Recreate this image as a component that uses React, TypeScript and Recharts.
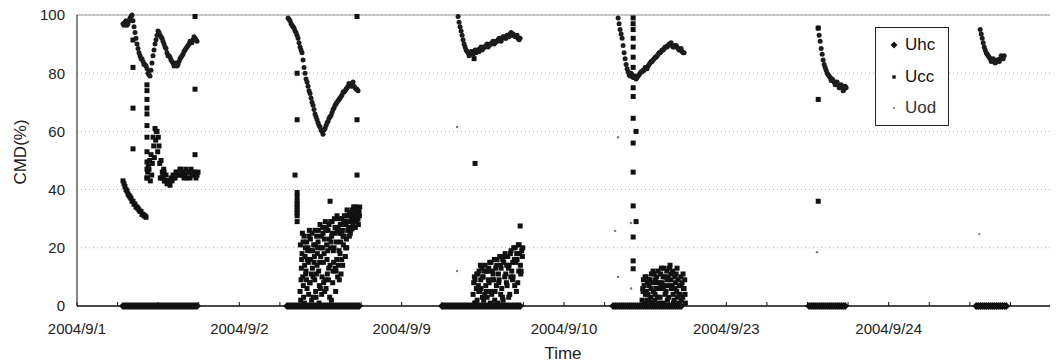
import React from 'react';
import { ScatterChart, Scatter, XAxis, YAxis, CartesianGrid, ReferenceLine } from 'recharts';

const FONT = "Arial, 'Liberation Sans', sans-serif";

// ---- categories / ticks ----
const DAY_LABELS = ['2004/9/1', '2004/9/2', '2004/9/9', '2004/9/10', '2004/9/23', '2004/9/24'];
const X_TICKS = [0, 0.25, 0.5, 0.75, 1, 1.25, 1.5, 1.75, 2, 2.25, 2.5, 2.75, 3, 3.25, 3.5, 3.75, 4, 4.25, 4.5, 4.75, 5, 5.25, 5.5, 5.75, 6];
const Y_TICKS = [0, 20, 40, 60, 80, 100];

// sampling intervals (in day-index units)
const STEP = 0.01232;
const HALF = 0.00616;

// ---- Uhc (zero band) ----
const uhcDay1 = [0,0,0,0,0,0,0,0,0,0,0,0,0,0,0,0,0,0,0,0,0,0,0,0,0,0,0,0,0,0,0,0,0,0,0,0,0,0];
const uhcDay2 = [0,0,0,0,0,0,0,0,0,0,0,0,0,0,0,0,0,0,0,0,0,0,0,0,0,0,0,0,0,0,0,0,0,0,0,0,0];
const uhcDay3 = [0,0,0,0,0,0,0,0,0,0,0,0,0,0,0,0,0,0,0,0,0,0,0,0,0,0,0,0,0,0,0,0,0,0,0,0,0,0,0,0];
const uhcDay4 = [0,0,0,0,0,0,0,0,0,0,0,0,0,0,0,0,0,0,0,0,0,0,0,0,0,0,0,0,0,0,0,0,0,0,0];
const uhcDay5 = [0,0,0,0,0,0,0,0,0,0,0,0,0,0,0,0,0,0,0];
const uhcDay6 = [0,0,0,0,0,0,0,0,0,0,0,0,0,0,0,0];
const uhcStarts = [0.2834, 1.2939, 2.2489, 3.3025, 4.5102, 5.5391];

// ---- Uod (curves, two interleaved readings) ----
const uodDay1 = [97, 97.5, 96.5, 98, 99.5, 98, 94, 90, 87, 85, 84, 83, 81.5, 79.5, 81, 86, 90, 93, 94, 92.5, 91, 89, 87, 86, 84.5, 83.5, 83, 82.5, 84, 85.5, 86.5, 88, 89, 90, 90.5, 91.5, 92, 91];
const uodDay1B = [96.5, 98, 97, 99, 100, 96, 92, 88.5, 86, 85, 83, 82.5, 80, 79, 83.5, 88, 91.5, 94.5, 93, 92, 90, 88.5, 86, 85.5, 84, 82.5, 83.5, 83, 85, 86, 87.5, 88.5, 89.5, 91, 90.5, 92.5, 91.5];
const uodDay2 = [99, 98, 96.5, 95.5, 94, 92, 89, 87, 82, 78, 75.5, 73, 70, 67.5, 65, 63, 61.5, 60, 60.5, 62, 63.5, 65, 66.5, 68, 69.5, 70.5, 71.5, 72.5, 73.5, 74.5, 75.5, 76, 76.5, 75.5, 74.5, 74];
const uodDay2B = [98.5, 97, 96, 94.5, 93, 90.5, 88, 84.5, 80, 77, 74, 71.5, 69, 66, 64, 62, 60.5, 59, 61, 63, 64.5, 65.5, 67.5, 69, 70, 71, 72, 73.5, 74, 75, 76.5, 75.5, 77, 75, 74.5];
const uodDay3 = [99.5, 96, 93, 90, 88, 87, 86.5, 87, 87.5, 87, 88, 88.5, 88, 89, 89.5, 89, 90, 90.5, 90, 91, 91.5, 91.5, 92, 92.5, 92, 93, 93.5, 93, 93, 92.5, 92, 92];
const uodDay3B = [97.5, 94.5, 91.5, 89, 87.5, 86, 87.5, 86.5, 88, 88, 87.5, 89, 88.5, 89, 90, 89.5, 90, 91, 90.5, 91, 92, 91, 92.5, 92, 93, 92.5, 94, 93.5, 92.5, 93, 91.5];
const uodDay4 = [99, 95, 92, 87, 83, 80.5, 79, 79.5, 78.5, 78, 79, 80, 80.5, 81, 82, 82.5, 83.5, 84, 85, 85.5, 86.5, 87, 88, 88.5, 89, 89.5, 90, 89.5, 89, 89.5, 88.5, 88, 87.5, 87];
const uodDay4B = [97, 93.5, 89.5, 85, 81.5, 79.5, 80, 78.5, 79, 78.5, 79.5, 80.5, 81, 82, 81.5, 83, 84, 84.5, 85.5, 86, 87, 87.5, 88, 89, 89, 90, 90.5, 89, 89.5, 89, 88, 88.5, 87];
const uodDay5 = [95.5, 91, 86.5, 83, 81, 79.5, 78.5, 78, 77, 76.5, 76, 75.5, 75, 74.5, 75];
const uodDay5B = [93, 88.5, 84.5, 82, 80, 79, 77.5, 77.5, 76, 77, 75, 76, 74, 75.5];
const uodDay6 = [95, 92, 89, 87, 86, 85, 84.5, 84, 84, 84.5, 85, 85.5, 86];
const uodDay6B = [93.5, 90.5, 88, 86.5, 85.5, 84, 85, 83.5, 84.5, 84, 86, 85];
const uodStarts = [0.2834, 1.3, 2.3475, 3.3333, 4.5656, 5.5638];
const uodStrayTime = [2.341, 2.341, 3.333, 3.333, 3.315, 3.413, 3.413, 4.559, 5.558];
const uodStrayValue = [61.5, 12, 58, 10, 25.8, 6, 28.5, 18.5, 24.7];

// ---- Ucc (squares) ----
const uccD1DescentA = [43, 41, 39.5, 38, 37, 36, 35, 34, 33, 32.5, 31.5, 31];
const uccD1DescentB = [42, 40, 38.5, 37.5, 36, 35, 34, 33.5, 32.5, 31.5, 31, 30.5];
const uccD1ClusterA = [44, 47, 52, 58, 61, 60, 55, 50, 45];
const uccD1ClusterB = [46, 50, 45, 55, 57, 53, 49, 44, 47];
const uccD1ClusterC = [48, 43, 49, 51, 60, 58, 44, 46, 43];
const uccD1BandA = [44, 43, 42, 43, 44, 45, 44, 46, 45, 47, 46, 45, 44, 46, 47, 45, 46, 45];
const uccD1BandB = [46, 45, 43, 41.5, 43, 44, 46, 45, 47, 45, 44, 47, 46, 44, 45, 46, 44, 46];

const uccD2A = [5, 18, 24, 12, 20, 8, 25, 15, 3, 22, 28, 10, 18, 6, 26, 14, 29, 20, 12, 27, 18, 30, 24, 28, 31, 26, 33, 29, 32, 30];
const uccD2B = [2, 10, 14, 22, 4, 16, 19, 9, 24, 12, 17, 27, 5, 21, 13, 29, 8, 25, 16, 30, 22, 14, 28, 20, 27, 32, 29, 31, 34, 33];
const uccD2C = [13, 7, 20, 16, 26, 11, 3, 21, 18, 7, 24, 15, 29, 11, 23, 2, 19, 13, 26, 9, 25, 21, 17, 31, 24, 29, 30, 27, 33, 31];
const uccD2D = [21, 25, 1, 9, 15, 23, 13, 17, 11, 26, 6, 20, 23, 27, 9, 20, 25, 30, 22, 14, 28, 26, 31, 23, 29, 25, 31, 34, 30, 28];
const uccD2E = [9, 22, 17, 6, 24, 19, 10, 26, 14, 1, 20, 25, 9, 16, 28, 22, 12, 27, 31, 19, 11, 24, 29, 33, 26, 31, 28, 33, 29, 32];
const uccD2F = [16, 3, 11, 19, 8, 2, 21, 5, 20, 15, 4, 8, 26, 19, 3, 24, 15, 5, 10, 25, 16, 29, 20, 26, 32, 30, 34, 30, 31, 34];

const uccD3A = [4, 9, 2, 12, 6, 10, 14, 3, 8, 15, 11, 5, 16, 9, 13, 2, 18, 7, 14, 19, 10, 20, 16, 21, 12];
const uccD3B = [8, 1, 11, 5, 13, 2, 7, 12, 15, 4, 9, 13, 1, 17, 6, 15, 11, 17, 4, 12, 20, 15, 8, 18, 19];
const uccD3C = [10, 6, 7, 14, 3, 12, 5, 9, 1, 12, 16, 7, 11, 14, 3, 17, 8, 13, 18, 9, 16, 5, 21, 14, 17];
const uccD3E = [1, 11, 5, 9, 10, 4, 12, 13, 5, 9, 2, 14, 8, 4, 16, 10, 14, 3, 10, 15, 7, 18, 12, 11, 20];

const uccD4A = [2, 7, 10, 4, 9, 1, 11, 6, 12, 3, 8, 13, 5, 10, 14, 7, 2, 11, 9, 4, 8, 6];
const uccD4B = [6, 1, 5, 9, 3, 8, 2, 10, 6, 11, 1, 7, 12, 3, 9, 12, 10, 5, 1, 10, 3, 9];
const uccD4C = [9, 4, 8, 2, 11, 5, 9, 3, 8, 13, 6, 10, 2, 13, 6, 1, 8, 3, 7, 2, 6, 1];
const uccD4E = [5, 10, 2, 7, 6, 12, 4, 8, 1, 7, 10, 4, 9, 7, 11, 4, 6, 13, 4, 7, 11, 4];

const uccIsoTime = [
  0.345, 0.345, 0.345, 0.345,
  0.431, 0.431, 0.431, 0.431, 0.431, 0.431, 0.431, 0.431, 0.431, 0.431, 0.431,
  0.727, 0.727, 0.727,
  1.356, 1.356, 1.356, 1.356, 1.356, 1.356, 1.356, 1.356, 1.356, 1.356, 1.356,
  1.343, 1.725, 1.725, 1.725, 1.559, 1.694,
  2.446, 2.452, 2.73,
  3.426, 3.426, 3.426, 3.426, 3.426, 3.426, 3.426, 3.426, 3.426, 3.426, 3.426, 3.426, 3.426, 3.426, 3.426, 3.426,
  3.444, 3.444,
  4.566, 4.566, 4.566,
];
const uccIsoValue = [
  91.4, 82, 68, 54,
  76, 74, 71, 68, 66, 62, 58, 53, 49.5, 47, 44,
  99.5, 74.5, 52,
  80, 64, 39, 37.5, 36, 35, 34, 33, 32, 31, 29,
  45, 99.5, 64, 45, 36, 26.5,
  85, 49, 27.5,
  99, 97, 95, 92, 89, 85.5, 82, 75, 72, 64.5, 56, 46, 34.4, 23.7, 15.5, 12.8,
  60, 29,
  95.5, 71, 36,
];

type Pt = { t: number; v: number };
const run = (start: number, step: number, values: number[]): Pt[] => values.map((v, i) => ({ t: start + i * step, v }));
const pairs = (ts: number[], vs: number[]): Pt[] => ts.map((t, i) => ({ t, v: vs[i] }));

const uhcData: Pt[] = [uhcDay1, uhcDay2, uhcDay3, uhcDay4, uhcDay5, uhcDay6].flatMap((arr, i) => run(uhcStarts[i], STEP, arr));
const uodCurveData: Pt[] = [
  ...[uodDay1, uodDay2, uodDay3, uodDay4, uodDay5, uodDay6].flatMap((arr, i) => run(uodStarts[i], STEP, arr)),
  ...[uodDay1B, uodDay2B, uodDay3B, uodDay4B, uodDay5B, uodDay6B].flatMap((arr, i) => run(uodStarts[i] + HALF, STEP, arr)),
];
const uodStrayData: Pt[] = pairs(uodStrayTime, uodStrayValue);
const uccData: Pt[] = [
  ...run(0.2834, STEP, uccD1DescentA),
  ...run(0.2896, STEP, uccD1DescentB),
  ...run(0.4313, STEP, uccD1ClusterA),
  ...run(0.4356, STEP, uccD1ClusterB),
  ...run(0.4393, STEP, uccD1ClusterC),
  ...run(0.5299, STEP, uccD1BandA),
  ...run(0.536, STEP, uccD1BandB),
  ...run(1.374, STEP, uccD2A),
  ...run(1.378, STEP, uccD2B),
  ...run(1.382, STEP, uccD2C),
  ...run(1.376, STEP, uccD2D),
  ...run(1.38, STEP, uccD2E),
  ...run(1.384, STEP, uccD2F),
  ...run(2.44, STEP, uccD3A),
  ...run(2.444, STEP, uccD3B),
  ...run(2.448, STEP, uccD3C),
  ...run(2.45, STEP, uccD3E),
  ...run(3.481, STEP, uccD4A),
  ...run(3.485, STEP, uccD4B),
  ...run(3.489, STEP, uccD4C),
  ...run(3.487, STEP, uccD4E),
  ...pairs(uccIsoTime, uccIsoValue),
];

const Diamond = (p: any) => {
  const { cx, cy } = p;
  const s = 4;
  return <polygon points={`${cx},${cy - s} ${cx + s},${cy} ${cx},${cy + s} ${cx - s},${cy}`} fill="#111" />;
};
const Square = (p: any) => <rect x={p.cx - 2.5} y={p.cy - 2.5} width={5} height={5} fill="#111" />;
const CurveDot = (p: any) => <circle cx={p.cx} cy={p.cy} r={2.5} fill="#1c1c1c" />;
const StrayDot = (p: any) => <circle cx={p.cx} cy={p.cy} r={1.2} fill="#777" />;

const LEGEND_ITEMS = ['Uhc', 'Ucc', 'Uod'];

const LegendBox = () => (
  <div style={{ position: 'absolute', left: 875, top: 27, width: 74, height: 99, border: '1px solid #222', boxSizing: 'border-box', background: '#fff', fontFamily: FONT, fontSize: 17, color: '#111' }}>
    {LEGEND_ITEMS.map((name, i) => (
      <div key={name} style={{ position: 'absolute', left: 13, top: 7 + i * 31.5, height: 20, display: 'flex', alignItems: 'center' }}>
        <svg width={10} height={10}>
          {i === 0 && <polygon points="5,1.5 8.5,5 5,8.5 1.5,5" fill="#111" />}
          {i === 1 && <rect x={3.3} y={3.3} width={3.4} height={3.4} fill="#111" />}
          {i === 2 && <circle cx={5} cy={5} r={1.1} fill="#777" />}
        </svg>
        <span style={{ marginLeft: 6, color: i === 2 ? '#333' : '#111' }}>{name}</span>
      </div>
    ))}
  </div>
);

const fmtX = (v: number) => (Number.isInteger(v) && v < 6 ? DAY_LABELS[v] : '');

export default function App() {
  return (
    <div style={{ position: 'relative', width: 1058, height: 363, margin: '-8px 0 0 -8px', background: '#fff' }}>
      <ScatterChart width={1058} height={363} margin={{ top: 15, right: 7, bottom: 12, left: 17 }}>
        <CartesianGrid horizontal vertical={false} stroke="#aaa" strokeDasharray="1 3" />
        <ReferenceLine y={100} stroke="#999" strokeWidth={1} />
        <ReferenceLine x={6} stroke="#999" strokeWidth={1} />
        <XAxis
          type="number"
          dataKey="t"
          domain={[0, 6]}
          ticks={X_TICKS}
          interval={0}
          tickFormatter={fmtX}
          tickSize={-4}
          tickMargin={21}
          height={45}
          axisLine={{ stroke: '#111', strokeWidth: 1.3 }}
          tickLine={{ stroke: '#111' }}
          tick={{ fill: '#222', fontSize: 15, fontFamily: FONT }}
          label={{ content: () => <text x={563} y={359} textAnchor="middle" fontSize={17} fontFamily={FONT} fill="#222">Time</text> }}
        />
        <YAxis
          type="number"
          dataKey="v"
          domain={[0, 100]}
          ticks={Y_TICKS}
          interval={0}
          width={60}
          tickSize={0}
          tickMargin={12}
          tickLine={false}
          axisLine={{ stroke: '#111', strokeWidth: 1 }}
          tick={{ fill: '#222', fontSize: 15, fontFamily: FONT }}
          label={{ content: () => <text x={20} y={152} transform="rotate(-90 20 152)" textAnchor="middle" dominantBaseline="central" fontSize={17} fontFamily={FONT} fill="#222">CMD(%)</text> }}
        />
        <Scatter name="Uod" data={uodCurveData} shape={CurveDot} isAnimationActive={false} />
        <Scatter name="Uod stray" data={uodStrayData} shape={StrayDot} isAnimationActive={false} legendType="none" />
        <Scatter name="Ucc" data={uccData} shape={Square} isAnimationActive={false} />
        <Scatter name="Uhc" data={uhcData} shape={Diamond} isAnimationActive={false} />
      </ScatterChart>
      <LegendBox />
    </div>
  );
}
